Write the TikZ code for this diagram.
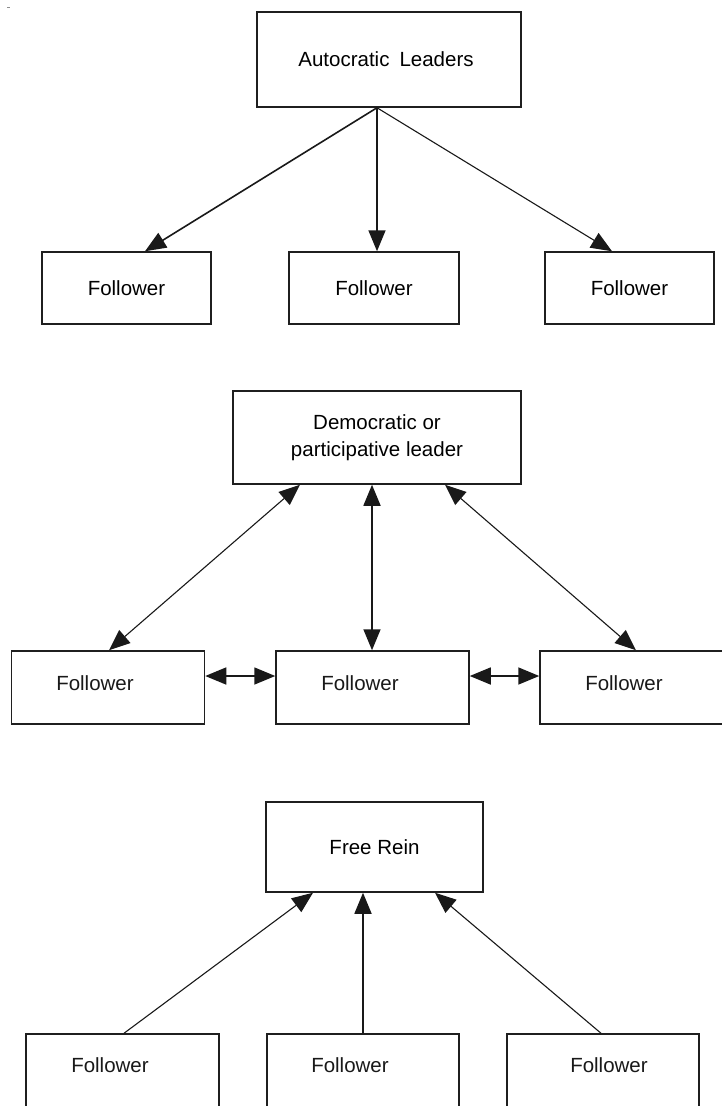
\documentclass[tikz,border=0pt]{standalone}
\usepackage{fontspec}
\setmainfont{Liberation Sans}
\usetikzlibrary{arrows.meta}
\begin{document}
\begin{tikzpicture}[x=1pt,y=-1pt,
  box/.style={draw=black!88, line width=1.5pt, rectangle, inner sep=0pt,
    font=\fontsize{20.5}{27}\selectfont, align=center},
  lbl/.style={font=\fontsize{20.5}{27}\selectfont, inner sep=0pt, text=black!90},
  fol/.style={box, minimum width=193pt, minimum height=73pt},
  head/.style={Triangle[length=21pt,width=17pt]},
  onearr/.style={draw=black!90, -{Triangle[length=21pt,width=17pt]}},
  twoarr/.style={draw=black!90, {Triangle[length=21pt,width=17pt]}-{Triangle[length=21pt,width=17pt]}},
  thick1/.style={line width=1.6pt},
  thin1/.style={line width=1.1pt}
]
\fill[white] (0,0) rectangle (722,1106);
\useasboundingbox (0,0) rectangle (722,1106);
\fill[black!45] (7,6.5) rectangle (10,7.5);

% ---------- Autocratic ----------
\node[box, minimum width=264pt, minimum height=95pt] (lead) at (389,59.5)
  {Autocratic\hspace{10pt}Leaders\hspace*{6pt}};
\node[fol, minimum width=169pt, minimum height=72pt] (f11) at (126.5,288) {Follower};
\node[fol, minimum width=170pt, minimum height=72pt] (f12) at (374,288) {Follower};
\node[fol, minimum width=169pt, minimum height=72pt] (f13) at (629.5,288) {Follower};

\draw[onearr, thick1] ([xshift=-12pt]lead.south) -- ([xshift=18.5pt]f11.north);
\draw[onearr, thick1] ([xshift=-12pt]lead.south) -- ([xshift=3pt]f12.north);
\draw[onearr, thin1]  ([xshift=-12pt]lead.south) -- ([xshift=-17.5pt]f13.north);

% ---------- Democratic or participative ----------
\node[box, minimum width=288pt, minimum height=93pt] (demo) at (377,437.5)
  {Democratic or\\participative leader};
\node[fol, label={[lbl,xshift=-13pt,yshift=4.5pt]center:Follower}] (f21) at (108,687.5) {};
\node[fol, label={[lbl,xshift=-12.5pt,yshift=4.5pt]center:Follower}] (f22) at (372.5,687.5) {};
\node[fol, label={[lbl,xshift=-12.5pt,yshift=4.5pt]center:Follower}] (f23) at (636.5,687.5) {};

\draw[twoarr, thin1]  ([xshift=-77pt]demo.south) -- ([xshift=1pt]f21.north);
\draw[twoarr, thick1] ([xshift=-5pt]demo.south) -- ([xshift=-0.5pt]f22.north);
\draw[twoarr, thin1]  ([xshift=68pt]demo.south) -- ([xshift=-0.5pt]f23.north);
\draw[twoarr, thick1] ([yshift=11.5pt]f21.east) -- ([yshift=11.5pt]f22.west);
\draw[twoarr, thick1] ([yshift=11.5pt]f22.east) -- ([yshift=11.5pt]f23.west);

% ---------- Free rein ----------
\node[box, minimum width=217pt, minimum height=90pt] (free) at (374.5,847) {Free Rein};
\node[fol, minimum height=76pt, label={[lbl,xshift=-12.5pt,yshift=7pt]center:Follower}] (f31) at (122.5,1072) {};
\node[fol, minimum width=192pt, minimum height=76pt, label={[lbl,xshift=-13pt,yshift=7pt]center:Follower}] (f32) at (363,1072) {};
\node[fol, minimum width=192pt, minimum height=76pt, label={[lbl,xshift=6pt,yshift=7pt]center:Follower}] (f33) at (603,1072) {};

\draw[onearr, thin1]  ([xshift=1.5pt]f31.north) -- ([xshift=-61.5pt]free.south);
\draw[onearr, thick1] (f32.north) -- ([xshift=-11.5pt]free.south);
\draw[onearr, thin1]  ([xshift=-2pt]f33.north) -- ([xshift=60.5pt]free.south);
\end{tikzpicture}
\end{document}
